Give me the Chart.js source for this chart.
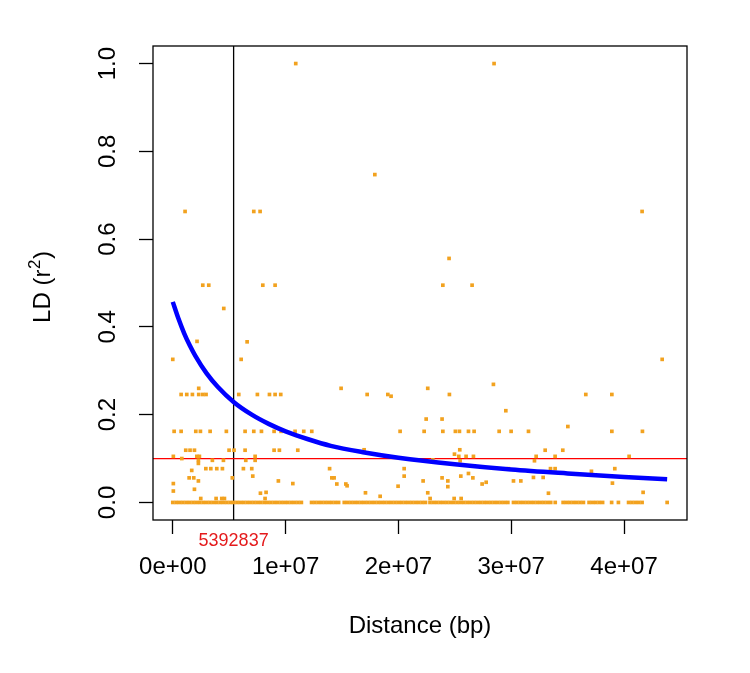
<!DOCTYPE html>
<html>
<head>
<meta charset="utf-8">
<script src="https://cdn.jsdelivr.net/npm/chart.js@4/dist/chart.umd.min.js"></script>
<style>
  html, body { margin: 0; padding: 0; background: #fff; }
  #wrap { width: 750px; height: 673px; }
</style>
</head>
<body>
<div id="wrap"><canvas id="ld" width="750" height="673"></canvas></div>
<script>
// distance is kept in Mb, tick labels carry the bp notation
const xTickLabels = ['0e+00', '1e+07', '2e+07', '3e+07', '4e+07'];
const yTickLabels = ['0.0', '0.2', '0.4', '0.6', '0.8', '1.0'];
const xRange = [-1.753, 45.58];
const yRange = [-0.04, 1.04];
const cutDist = 5.392837;
const cutLabel = '5392837';
const r2Cut = 0.1;

// pairs sitting on r2 = 0
const zeroDist = [
  0.0, 0.3, 0.6, 0.9, 1.2, 1.5, 1.8, 2.1, 2.4, 2.7, 3.0, 3.3, 3.6, 3.9, 4.2, 4.5, 4.8, 5.1, 5.4, 5.7,
  6.0, 6.3, 6.6, 6.9, 7.2, 7.5, 7.8, 8.1, 8.4, 8.7, 9.0, 9.3, 9.6, 9.9, 10.2, 10.5, 10.8, 11.1, 11.4,
  12.3, 12.6, 12.9, 13.2, 13.5, 13.8, 14.1, 14.4, 14.7,
  15.2, 15.5, 15.8, 16.1, 16.4, 16.7, 17.0, 17.3, 17.6, 17.9, 18.2, 18.5, 18.8, 19.1, 19.4, 19.7, 20.0,
  20.3, 20.6, 20.9, 21.2, 21.5, 21.8, 22.1, 22.4,
  22.8, 23.1, 23.4, 23.7, 24.0, 24.3, 24.6, 24.9, 25.2, 25.5, 25.8, 26.1, 26.4, 26.7, 27.0, 27.3, 27.6,
  27.9, 28.2, 28.5, 28.8, 29.1, 29.4, 29.7,
  30.2, 30.5, 30.8, 31.1, 31.4, 31.7, 32.0, 32.3, 32.6, 32.9, 33.2, 33.5, 33.9,
  34.6, 34.9, 35.2, 35.5, 35.8, 36.1, 36.4, 36.9, 37.2, 37.5, 37.8, 38.1, 38.9, 39.5,
  40.4, 40.7, 41.0, 41.3, 41.6, 43.82
];

// the other pairs, distance (Mb) and r2
const ldDist = [
  0.0, 1.09, 2.66, 3.19, 4.52, 2.15, 6.06, 6.59, 7.18, 7.74, 7.98, 9.07, 10.90, 17.91, 28.48, 41.6,
  24.49, 23.94, 26.53, 43.38, 28.42,
  2.30,
  0.74, 1.24, 1.74, 2.30, 2.66, 2.95, 5.85, 7.5, 8.57, 9.07, 9.57,
  0.12, 0.74, 2.04, 2.45, 3.31, 4.75, 6.41, 7.18, 7.86, 8.98, 9.60, 10.84, 11.61, 12.32,
  1.15, 1.53, 1.92, 4.99, 5.43, 6.41, 8.98, 9.45, 11.08,
  0.05, 2.13, 2.36, 7.30, 0.80,
  2.27, 3.51, 4.49, 6.47, 7.30, 2.27,
  2.93, 3.37, 3.90, 4.40, 6.26, 7.00, 13.9, 1.68,
  7.09, 1.45, 1.86, 5.28, 14.1, 14.3, 2.27, 9.36, 0.05, 10.64,
  1.92, 0.05, 8.27, 7.77, 2.48, 3.84, 4.34, 4.58, 8.18,
  14.92, 22.6, 17.23, 19.06, 24.52, 19.35, 29.52, 22.46, 23.87,
  20.15, 22.28, 23.94, 25.05, 25.41, 26.21, 26.71, 28.93,
  16.96, 25.44, 24.97, 25.35, 26.0, 26.65, 23.05, 25.47,
  20.51, 26.21, 20.51, 25.53, 23.87, 26.6, 22.19, 24.38, 27.78, 27.42, 14.54, 15.34, 15.45,
  19.97, 24.38, 17.08, 22.6, 18.38, 22.81, 24.94, 25.56,
  36.61, 38.92, 35.02, 29.99, 31.53, 38.92, 41.63, 33.01, 34.57,
  32.21, 33.89, 40.45, 32.06, 29.75, 33.48, 33.89, 39.18, 37.11,
  31.97, 32.83, 30.2, 30.85, 38.97, 41.69, 33.3
];
const ldR2 = [
  0.326, 0.663, 0.495, 0.495, 0.442, 0.367, 0.326, 0.366, 0.663, 0.663, 0.495, 0.495, 1.0, 0.747, 1.0, 0.663,
  0.556, 0.495, 0.495, 0.326, 0.269,
  0.26,
  0.246, 0.246, 0.246, 0.246, 0.246, 0.246, 0.246, 0.246, 0.246, 0.246, 0.246,
  0.162, 0.162, 0.162, 0.162, 0.162, 0.162, 0.162, 0.162, 0.162, 0.162, 0.162, 0.162, 0.162, 0.162,
  0.119, 0.119, 0.119, 0.119, 0.119, 0.119, 0.119, 0.119, 0.119,
  0.105, 0.105, 0.105, 0.105, 0.100,
  0.096, 0.096, 0.096, 0.096, 0.096, 0.089,
  0.077, 0.077, 0.077, 0.077, 0.077, 0.077, 0.077, 0.073,
  0.060, 0.056, 0.056, 0.056, 0.056, 0.056, 0.049, 0.049, 0.043, 0.043,
  0.030, 0.026, 0.023, 0.021, 0.009, 0.009, 0.009, 0.009, 0.009,
  0.26, 0.26, 0.246, 0.246, 0.246, 0.242, 0.209, 0.19, 0.19,
  0.162, 0.162, 0.162, 0.162, 0.162, 0.162, 0.162, 0.162,
  0.12, 0.12, 0.11, 0.105, 0.105, 0.105, 0.097, 0.095,
  0.077, 0.066, 0.060, 0.060, 0.056, 0.056, 0.049, 0.049, 0.046, 0.042, 0.042, 0.042, 0.038,
  0.037, 0.036, 0.022, 0.022, 0.014, 0.009, 0.009, 0.009,
  0.246, 0.246, 0.173, 0.162, 0.162, 0.162, 0.162, 0.119, 0.119,
  0.105, 0.105, 0.105, 0.095, 0.077, 0.077, 0.077, 0.077, 0.071,
  0.057, 0.057, 0.049, 0.049, 0.044, 0.023, 0.021
];

// decay curve
const fitDist = [0, 0.5, 1, 1.5, 2, 3, 4, 5.39, 7, 8.5, 10, 12, 14, 17, 20, 25, 30, 35, 40, 43.82];
const fitR2 = [0.457, 0.419, 0.386, 0.358, 0.334, 0.294, 0.263, 0.229, 0.200, 0.179, 0.162, 0.144, 0.129,
  0.114, 0.102, 0.087, 0.075, 0.066, 0.058, 0.053];

const FONT = '"Liberation Sans", Arial, sans-serif';
const ORANGE = '#F2A21F';

const pts = (xs, ys) => xs.map((v, i) => ({ x: v, y: ys[i] }));

const rPlot = {
  id: 'rPlot',
  afterDraw(chart) {
    const { ctx, chartArea: a, scales: { x, y } } = chart;
    ctx.save();
    ctx.strokeStyle = '#000';
    ctx.lineWidth = 1.3;
    ctx.strokeRect(a.left, a.top, a.right - a.left, a.bottom - a.top);

    ctx.fillStyle = '#000';
    ctx.font = '24px ' + FONT;
    ctx.textAlign = 'center';
    ctx.textBaseline = 'alphabetic';
    x.ticks.forEach((t, i) => {
      ctx.fillText(xTickLabels[i], x.getPixelForValue(t.value), 573.5);
    });
    y.ticks.forEach((t, i) => {
      ctx.save();
      ctx.translate(115, y.getPixelForValue(t.value));
      ctx.rotate(-Math.PI / 2);
      ctx.fillText(yTickLabels[i], 0, 0);
      ctx.restore();
    });

    // axis titles
    ctx.fillText('Distance (bp)', (a.left + a.right) / 2, 633);

    ctx.save();
    ctx.translate(50, 287);
    ctx.rotate(-Math.PI / 2);
    ctx.textAlign = 'left';
    const big = '24px ' + FONT, small = '17px ' + FONT;
    ctx.font = big;
    const w1 = ctx.measureText('LD (r').width;
    const w3 = ctx.measureText(')').width;
    ctx.font = small;
    const w2 = ctx.measureText('2').width + 1;
    let sx = -(w1 + w2 + w3) / 2;
    ctx.font = big;
    ctx.fillText('LD (r', sx, 0);
    ctx.font = small;
    ctx.fillText('2', sx + w1 + 0.5, -10);
    ctx.font = big;
    ctx.fillText(')', sx + w1 + w2, 0);
    ctx.restore();

    // red label for the cut distance
    ctx.fillStyle = '#E41A1C';
    ctx.font = '18px ' + FONT;
    ctx.fillText(cutLabel, x.getPixelForValue(cutDist), 546);
    ctx.restore();
  }
};

new Chart(document.getElementById('ld'), {
  type: 'scatter',
  data: {
    datasets: [
      {
        data: pts(fitDist, fitR2),
        showLine: true,
        borderColor: '#0000FF',
        borderWidth: 4.5,
        pointRadius: 0,
        cubicInterpolationMode: 'monotone',
        order: 1
      },
      {
        data: pts(ldDist, ldR2),
        pointStyle: 'rect',
        pointRadius: 2.6,
        pointBorderWidth: 0,
        backgroundColor: ORANGE,
        order: 2
      },
      {
        data: zeroDist.map(v => ({ x: v, y: 0 })),
        pointStyle: 'rect',
        pointRadius: 2.6,
        pointBorderWidth: 0,
        backgroundColor: ORANGE,
        order: 3
      },
      {
        data: [{ x: xRange[0], y: r2Cut }, { x: xRange[1], y: r2Cut }],
        showLine: true,
        borderColor: '#FF0000',
        borderWidth: 1.3,
        pointRadius: 0,
        order: 4
      },
      {
        data: [{ x: cutDist, y: yRange[0] }, { x: cutDist, y: yRange[1] }],
        showLine: true,
        borderColor: '#000',
        borderWidth: 1.3,
        pointRadius: 0,
        order: 5
      }
    ]
  },
  options: {
    responsive: false,
    animation: false,
    devicePixelRatio: 1,
    layout: { padding: { top: 46, right: 63, left: 0, bottom: 0 } },
    plugins: { legend: { display: false }, tooltip: { enabled: false } },
    scales: {
      x: {
        type: 'linear',
        min: xRange[0],
        max: xRange[1],
        afterFit: s => { s.height = 153; },
        ticks: { stepSize: 10, includeBounds: false, display: false },
        grid: { drawOnChartArea: false, drawTicks: true, tickLength: 14, tickWidth: 1.3, tickColor: '#000' },
        border: { display: false }
      },
      y: {
        type: 'linear',
        min: yRange[0],
        max: yRange[1],
        afterFit: s => { s.width = 153; },
        ticks: { stepSize: 0.2, includeBounds: false, display: false },
        grid: { drawOnChartArea: false, drawTicks: true, tickLength: 14, tickWidth: 1.3, tickColor: '#000' },
        border: { display: false }
      }
    }
  },
  plugins: [rPlot]
});
</script>
</body>
</html>
